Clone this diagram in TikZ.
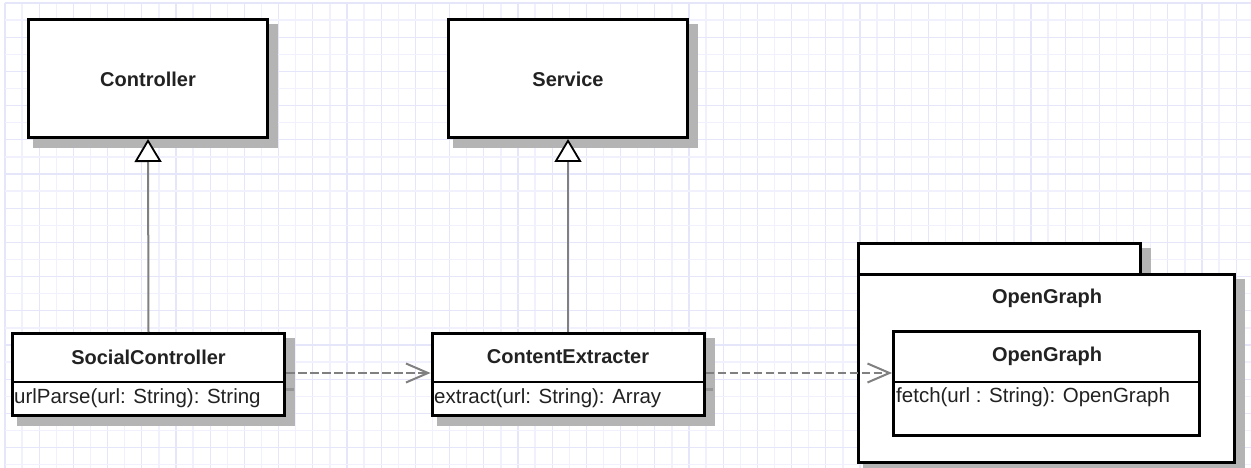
\documentclass[tikz,border=0pt]{standalone}
\usepackage{fontspec}
\setmainfont{Liberation Sans}
\usetikzlibrary{arrows.meta,calc}

\definecolor{gridA}{RGB}{230,230,251}
\definecolor{gridB}{RGB}{241,241,253}
\definecolor{shadowc}{RGB}{180,180,180}
\definecolor{stubc}{RGB}{150,150,150}
\definecolor{linkc}{RGB}{128,128,128}
\definecolor{txt}{RGB}{34,34,34}

\pgfdeclarelayer{gridlayer}
\pgfdeclarelayer{shadelayer}
\pgfsetlayers{gridlayer,shadelayer,main}

\tikzset{
  box/.style={rectangle, draw=black, line width=3pt, fill=white, inner sep=0pt},
  clsname/.style={font=\bfseries\fontsize{20}{24}\selectfont, text=txt, inner sep=0pt},
  method/.style={font=\fontsize{20.5}{24}\selectfont, text=txt, inner sep=0pt, anchor=west},
  divider/.style={draw=black, line width=2.5pt},
  shade/.style={fill=shadowc, draw=shadowc, line width=3pt},
  stub/.style={draw=stubc, line width=2.5pt},
  inherit/.style={draw=linkc, line width=2pt,
    -{Triangle[length=23pt,width=27pt,color=black,fill=white,line width=1.8pt]}},
  depend/.style={draw=linkc, line width=2.2pt, dash pattern=on 8.5pt off 3.5pt,
    -{Straight Barb[length=22pt,width=19pt,line width=2pt]}}
}

\begin{document}
\begin{tikzpicture}[x=1pt,y=-1pt]
  \useasboundingbox (0,0) rectangle (1251,468);

  % white sheet with the background grid
  \begin{pgfonlayer}{gridlayer}
    \fill[white] (0,0) rectangle (1251,468);
    \foreach \i in {0,...,72}{
      \ifodd\i \def\gc{gridB}\else\def\gc{gridA}\fi
      \pgfmathsetmacro\xx{5+17.1*\i}
      \draw[\gc, line width=1.3pt] (\xx,3) -- (\xx,468);
    }
    \foreach \j in {0,...,27}{
      \ifodd\j \def\gc{gridB}\else\def\gc{gridA}\fi
      \pgfmathsetmacro\yy{3+17.1*\j}
      \draw[\gc, line width=1.3pt] (5,\yy) -- (1251,\yy);
    }
  \end{pgfonlayer}

  % parent classes
  \node[box, minimum width=239pt, minimum height=118pt] (ctrl) at (148,78.5) {};
  \node[clsname] (ctrlname) at (148,79) {Controller};
  \node[box, minimum width=239pt, minimum height=118pt] (svc) at (568,78.5) {};
  \node[clsname] (svcname) at (568,79) {Service};

  % SocialController
  \node[box, minimum width=272pt, minimum height=82pt] (sc) at (148.5,374.5) {};
  \node[clsname] (scname) at (148.5,357) {SocialController};
  \draw[divider] (sc.west |- 0,382) -- (sc.east |- 0,382);
  \node[method] (scm) at (14,398) {urlParse(url: String): String};

  % ContentExtracter
  \node[box, minimum width=272pt, minimum height=82pt] (ce) at (568,374.5) {};
  \node[clsname] (cename) at (568,357) {ContentExtracter};
  \draw[divider] (ce.west |- 0,382) -- (ce.east |- 0,382);
  \node[method] (cem) at (434,398) {extract(url: String): Array};

  % OpenGraph package
  \node[box, minimum width=282pt, minimum height=31pt] (pkgtab) at (999.5,259) {};
  \node[box, minimum width=376pt, minimum height=188pt] (pkg) at (1046.5,368.5) {};
  \node[clsname] (pkgname) at (1047,298) {OpenGraph};

  % OpenGraph class inside the package
  \node[box, minimum width=306pt, minimum height=104pt] (og) at (1046.5,383.5) {};
  \node[clsname] (ogname) at (1047,356) {OpenGraph};
  \draw[divider] (og.west |- 0,382) -- (og.east |- 0,382);
  \node[method] (ogm) at (896,397) {fetch(url : String): OpenGraph};

  % drop shadows
  \begin{pgfonlayer}{shadelayer}
    \foreach \n in {ctrl,svc,sc,ce,pkgtab,pkg,og}{
      \filldraw[shade] ($(\n.north west)+(7.5,7.5)$) rectangle ($(\n.south east)+(7.5,7.5)$);
    }
    \foreach \n in {sc,ce,og}{
      \draw[stub] ($(\n.west |- 0,382)+(7.5,7.5)$) -- ($(\n.east |- 0,382)+(7.5,7.5)$);
    }
  \end{pgfonlayer}

  % relations
  \draw[inherit] (sc.north) -- (ctrl.south);
  \draw[inherit] (ce.north) -- (svc.south);
  \draw[depend] ([yshift=1.5pt]sc.east) -- ([yshift=1.5pt]ce.west);
  \draw[depend] ([yshift=1.5pt]ce.east) -- ([yshift=10.5pt]og.west);
\end{tikzpicture}
\end{document}
